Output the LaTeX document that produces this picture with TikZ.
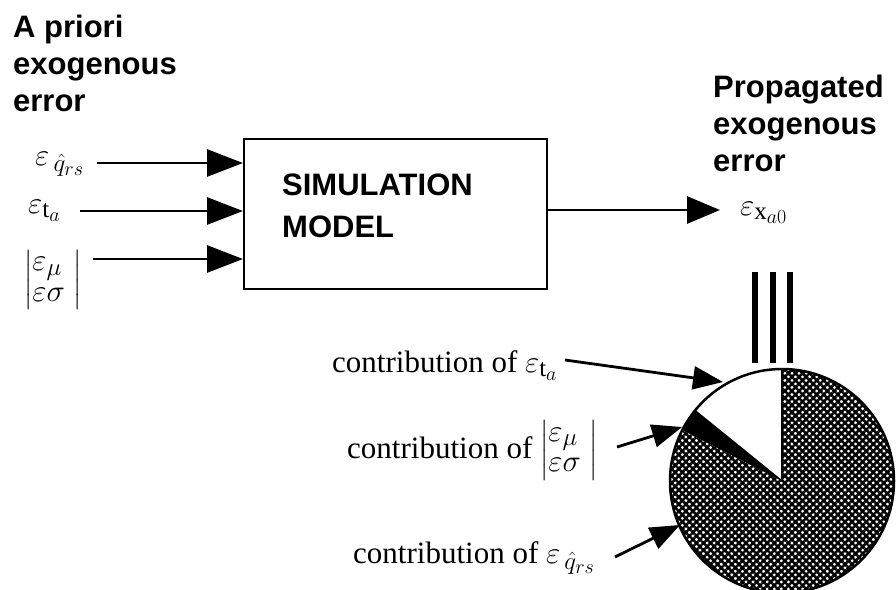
\RequirePackage{fix-cm}
\documentclass[tikz,border=0pt]{standalone}
\usepackage{amsmath}
\usepackage{fontspec}
\setmainfont{Liberation Serif}
\newfontfamily\arialf{Liberation Sans}
\DeclareMathSizes{31}{31}{25}{20}
\usetikzlibrary{arrows.meta,patterns.meta}
\begin{document}
\begin{tikzpicture}[x=1pt,y=-1pt,
  titletext/.style={font=\arialf\bfseries\fontsize{31}{37}\selectfont, align=left, inner sep=0pt, anchor=north west},
  lbl/.style={font=\fontsize{31}{37}\selectfont, inner sep=0pt, anchor=base west},
  modelbox/.style={draw, line width=2.2pt, minimum width=303pt, minimum height=150pt, inner sep=0pt, anchor=north west},
  inarrow/.style={line width=2.8pt, -{Triangle[length=36pt,width=27pt]}},
  ptr/.style={line width=2.8pt, -{Triangle[length=30pt,width=23pt]}},
  hatchfill/.style={pattern={Hatch[angle=45,distance=5pt,line width=2.5pt]}, pattern color=black}
]
\useasboundingbox (0,0) rectangle (896,589);

% titles
\node[titletext] (ltitle) at (13,15) {A priori\\exogenous\\error};
\node[titletext] (rtitle) at (713,75) {Propagated\\exogenous\\error};

% model box
\node[modelbox] (box) at (243,138) {};
\node[titletext, font=\arialf\bfseries\fontsize{31}{42}\selectfont] (boxtext) at (282,174) {SIMULATION\\MODEL};

% inputs
\node[lbl] (eq1) at (35,165) {$\varepsilon_{\,\hat{q}_{rs}}$};
\node[lbl] (eq2) at (28,213) {$\varepsilon_{\mathrm{t}_a}$};
\node[lbl, anchor=west] (eq3) at (24,280) {{\renewcommand{\arraystretch}{0.8}$\left|\begin{array}{@{}l@{\;}}\varepsilon_{\mu}\\ \varepsilon\sigma\end{array}\right|$}};

\coordinate (s1) at (97,163);
\coordinate (s2) at (80,211);
\coordinate (s3) at (93,259);
\draw[inarrow] (s1) -- (s1 -| box.west);
\draw[inarrow] (s2) -- (s2 -| box.west);
\draw[inarrow] (s3) -- (s3 -| box.west);

% output
\coordinate (o) at (720,210);
\draw[inarrow, -{Triangle[length=33pt,width=27pt]}] (box.east |- o) -- (o);
\node[lbl] (out) at (740,215) {$\varepsilon_{\mathrm{x}_{a0}}$};

% equivalence bars
\draw[line width=6pt] (755,272) -- (755,363);
\draw[line width=6pt] (773,272) -- (773,363);
\draw[line width=6pt] (790,272) -- (790,363);

% pie
\begin{scope}[shift={(782,481)}, yscale=-1]
  \coordinate (pc) at (0,0);
  \fill[hatchfill] (0,0) -- (153:112) arc[start angle=153, end angle=450, radius=112] -- cycle;
  \fill[black] (0,0) -- (141:112) arc[start angle=141, end angle=153, radius=112] -- cycle;
  \draw[line width=1.5pt] (0,0) -- (90:112);
  \draw[line width=1.5pt] (0,0) -- (141:112);
  \draw[line width=2.5pt] (0,0) circle[radius=112];
\end{scope}

% contributions
\node[lbl] (c1) at (332,372) {contribution of $\varepsilon_{\mathrm{t}_a}$};
\node[lbl] (c2) at (347,458) {contribution of {\renewcommand{\arraystretch}{0.8}$\left|\begin{array}{@{}l@{\;}}\varepsilon_{\mu}\\ \varepsilon\sigma\end{array}\right|$}};
\node[lbl] (c3) at (353,563) {contribution of $\varepsilon_{\,\hat{q}_{rs}}$};

\coordinate (a1) at (565,360);
\coordinate (t1) at (723,382);
\coordinate (a2) at (617,447);
\coordinate (t2) at (682,427);
\coordinate (a3) at (615,557);
\coordinate (t3) at (680,525);
\draw[ptr] (a1) -- (t1);
\draw[ptr] (a2) -- (t2);
\draw[ptr] (a3) -- (t3);
\end{tikzpicture}
\end{document}
